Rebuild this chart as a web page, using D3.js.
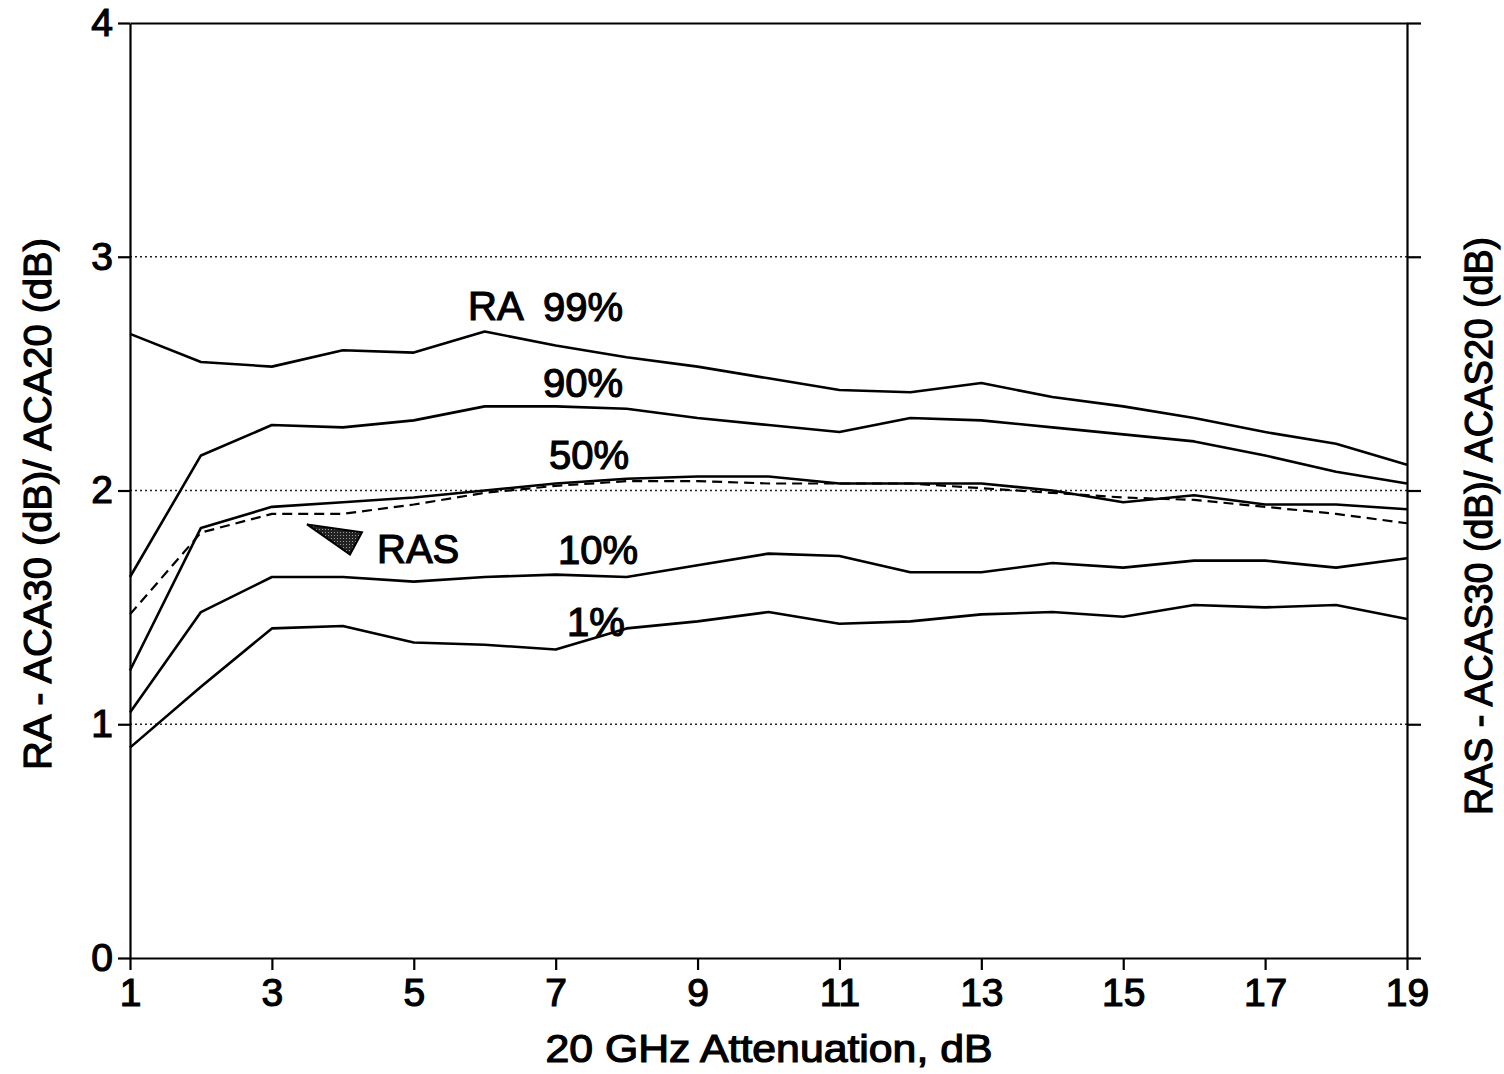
<!DOCTYPE html>
<html>
<head>
<meta charset="utf-8">
<script src="https://cdn.jsdelivr.net/npm/d3@7/dist/d3.min.js"></script>
<style>
  html, body { margin: 0; padding: 0; background: #fff; }
  svg { display: block; }
  text { font-family: "Liberation Sans", Arial, Helvetica, sans-serif; fill: #000; }
</style>
</head>
<body>
<svg id="chart" width="1504" height="1074"></svg>
<script>
// ---- Data ----
const attenuation = [1,2,3,4,5,6,7,8,9,10,11,12,13,14,15,16,17,18,19];
const ra99 = [2.67,2.55,2.53,2.60,2.59,2.68,2.62,2.57,2.53,2.48,2.43,2.42,2.46,2.40,2.36,2.31,2.25,2.20,2.11];
const ra90 = [1.63,2.15,2.28,2.27,2.30,2.36,2.36,2.35,2.31,2.28,2.25,2.31,2.30,2.27,2.24,2.21,2.15,2.08,2.03];
const ra50 = [1.23,1.84,1.93,1.95,1.97,2.00,2.03,2.05,2.06,2.06,2.03,2.03,2.03,2.00,1.95,1.98,1.94,1.94,1.92];
const ras  = [1.47,1.82,1.90,1.90,1.94,1.99,2.02,2.04,2.04,2.03,2.03,2.03,2.01,1.99,1.97,1.96,1.93,1.90,1.86];
const ra10 = [1.05,1.48,1.63,1.63,1.61,1.63,1.64,1.63,1.68,1.73,1.72,1.65,1.65,1.69,1.67,1.70,1.70,1.67,1.71];
const ra1  = [0.90,1.16,1.41,1.42,1.35,1.34,1.32,1.41,1.44,1.48,1.43,1.44,1.47,1.48,1.46,1.51,1.50,1.51,1.45];

const xTicks = [1,3,5,7,9,11,13,15,17,19];
const yTicks = [0,1,2,3,4];
const gridValues = [1,2,3];

const labelTexts = ["RA", "99%", "90%", "50%", "RAS", "10%", "1%"];
const labelX     = [5.765, 6.822, 6.822, 6.906, 4.482, 7.033, 7.160];
const labelY     = [2.731, 2.726, 2.402, 2.090, 1.688, 1.684, 1.376];

const arrowX = [3.495, 4.270, 4.101];
const arrowY = [1.855, 1.821, 1.726];

const xTitle = "20 GHz Attenuation, dB";
const yTitleLeft = "RA - ACA30 (dB)/ ACA20 (dB)";
const yTitleRight = "RAS - ACAS30 (dB)/ ACAS20 (dB)";

// ---- Layout ----
const plotLeft = 130, plotRight = 1407, plotTop = 23, plotBottom = 958;
const svg = d3.select("#chart");
svg.append("rect").attr("width", 1504).attr("height", 1074).attr("fill", "#fff");

const x = d3.scaleLinear().domain([1, 19]).range([plotLeft, plotRight]);
const y = d3.scaleLinear().domain([0, 4]).range([plotBottom, plotTop]);

// grid lines
svg.append("g").selectAll("line").data(gridValues).join("line")
  .attr("x1", plotLeft).attr("x2", plotRight)
  .attr("y1", d => y(d)).attr("y2", d => y(d))
  .attr("stroke", "#222").attr("stroke-width", 1.6)
  .attr("stroke-dasharray", "2,3");

// axes
const fontSize = 39;
const textStroke = 1.2;
function styleAxis(g) {
  g.select(".domain").attr("stroke", "#000").attr("stroke-width", 2.2);
  g.selectAll(".tick line").attr("stroke", "#000").attr("stroke-width", 2.2);
  g.selectAll(".tick text").attr("font-size", fontSize)
    .attr("font-family", '"Liberation Sans", Arial, sans-serif')
    .attr("fill", "#000").attr("stroke", "#000").attr("stroke-width", textStroke);
}

svg.append("g").attr("transform", `translate(0,${plotBottom})`)
  .call(d3.axisBottom(x).tickValues(xTicks).tickSize(12).tickPadding(8).tickSizeOuter(0).tickFormat(d3.format("d")))
  .call(styleAxis);

svg.append("g").attr("transform", `translate(${plotLeft},0)`)
  .call(d3.axisLeft(y).tickValues(yTicks).tickSize(12).tickPadding(5).tickSizeOuter(0).tickFormat(d3.format("d")))
  .call(styleAxis);

svg.append("g").attr("transform", `translate(${plotRight},0)`)
  .call(d3.axisRight(y).tickValues(yTicks).tickSize(14).tickSizeOuter(0).tickFormat(""))
  .call(styleAxis);

svg.append("g").attr("transform", `translate(0,${plotTop})`)
  .call(d3.axisTop(x).tickValues([]).tickSizeOuter(0))
  .call(styleAxis);

// lines
const line = d3.line().x((d, i) => x(attenuation[i])).y(d => y(d));
const solidSeries = [ra99, ra90, ra50, ra10, ra1];
svg.append("g").selectAll("path").data(solidSeries).join("path")
  .attr("d", d => line(d))
  .attr("fill", "none").attr("stroke", "#000").attr("stroke-width", 2.6)
  .attr("stroke-linejoin", "round");

svg.append("path").attr("d", line(ras))
  .attr("fill", "none").attr("stroke", "#000").attr("stroke-width", 2.2)
  .attr("stroke-dasharray", "10,6");

// arrow pointer for RAS
const defs = svg.append("defs");
const pat = defs.append("pattern").attr("id", "dots").attr("width", 3).attr("height", 3)
  .attr("patternUnits", "userSpaceOnUse");
pat.append("rect").attr("width", 3).attr("height", 3).attr("fill", "#222");
pat.append("rect").attr("x", 1).attr("y", 1).attr("width", 1).attr("height", 1).attr("fill", "#999");

svg.append("path")
  .attr("d", d3.line()(arrowX.map((v, i) => [x(v), y(arrowY[i])])) + "Z")
  .attr("fill", "url(#dots)").attr("stroke", "#000").attr("stroke-width", 2);

// labels
svg.append("g").selectAll("text").data(labelTexts).join("text")
  .attr("x", (d, i) => x(labelX[i]))
  .attr("y", (d, i) => y(labelY[i]))
  .attr("font-size", 40)
  .attr("stroke", "#000").attr("stroke-width", textStroke)
  .text(d => d);

// axis titles
svg.append("text")
  .attr("x", 769).attr("y", 1062)
  .attr("text-anchor", "middle").attr("font-size", fontSize)
  .attr("stroke", "#000").attr("stroke-width", textStroke)
  .attr("textLength", 447).attr("lengthAdjust", "spacingAndGlyphs")
  .text(xTitle);

svg.append("text")
  .attr("transform", "translate(51,504) rotate(-90)")
  .attr("text-anchor", "middle").attr("font-size", fontSize)
  .attr("stroke", "#000").attr("stroke-width", textStroke)
  .attr("textLength", 532).attr("lengthAdjust", "spacingAndGlyphs")
  .text(yTitleLeft);

svg.append("text")
  .attr("transform", "translate(1492,526) rotate(-90)")
  .attr("text-anchor", "middle").attr("font-size", fontSize)
  .attr("stroke", "#000").attr("stroke-width", textStroke)
  .attr("textLength", 578).attr("lengthAdjust", "spacingAndGlyphs")
  .text(yTitleRight);
</script>
</body>
</html>
